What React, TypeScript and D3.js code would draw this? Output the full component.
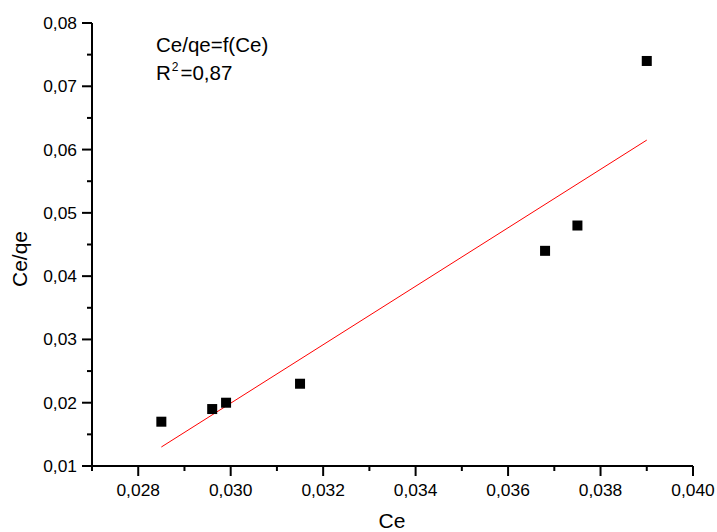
import React from "react";
import * as d3 from "d3";

const ceValues = [0.0285, 0.0296, 0.0299, 0.0315, 0.0368, 0.0375, 0.039];
const ceQeValues = [0.017, 0.019, 0.02, 0.023, 0.044, 0.048, 0.074];
const fitX = [0.0285, 0.039];
const fitY = [0.013, 0.0615];
const xTicks = [0.028, 0.03, 0.032, 0.034, 0.036, 0.038, 0.04];
const yTicks = [0.01, 0.02, 0.03, 0.04, 0.05, 0.06, 0.07, 0.08];

const W = 717;
const H = 532;
const FONT = "Arial, 'Liberation Sans', Helvetica, sans-serif";

export default function App() {
  const x = d3.scaleLinear().domain([0.027, 0.04]).range([92, 693]);
  const y = d3.scaleLinear().domain([0.01, 0.08]).range([466, 23]);
  const xMinor = d3.range(0.027, 0.0405, 0.001).filter(
    (v) => !xTicks.some((t) => Math.abs(t - v) < 1e-7)
  );
  const yMinor = d3.range(0.015, 0.08, 0.01);
  const fmtX = (v: number) => d3.format(".3f")(v).replace(".", ",");
  const fmtY = (v: number) => d3.format(".2f")(v).replace(".", ",");
  const line = d3
    .line<number>()
    .x((_, i) => x(fitX[i]))
    .y((d) => y(d));
  const ms = 10;
  return (
    <svg
      width={W}
      height={H}
      style={{ position: "absolute", left: 0, top: 0, background: "#fff" }}
      fontFamily={FONT}
    >
      <rect width={W} height={H} fill="#fff" />
      {/* axes */}
      <line x1={x(0.027)} x2={x(0.04)} y1={466} y2={466} stroke="#000" strokeWidth={2} />
      <line x1={92} x2={92} y1={y(0.08)} y2={466} stroke="#000" strokeWidth={2} />
      {xTicks.map((t) => (
        <g key={"xt" + t}>
          <line x1={x(t)} x2={x(t)} y1={466} y2={476} stroke="#000" strokeWidth={2} />
          <text x={x(t)} y={496} textAnchor="middle" fontSize={17.4} fill="#000">
            {fmtX(t)}
          </text>
        </g>
      ))}
      {xMinor.map((t) => (
        <line key={"xm" + t} x1={x(t)} x2={x(t)} y1={466} y2={471} stroke="#000" strokeWidth={2} />
      ))}
      {yTicks.map((t) => (
        <g key={"yt" + t}>
          <line x1={82} x2={92} y1={y(t)} y2={y(t)} stroke="#000" strokeWidth={2} />
          <text x={77} y={y(t) + 6} textAnchor="end" fontSize={17.4} fill="#000">
            {fmtY(t)}
          </text>
        </g>
      ))}
      {yMinor.map((t) => (
        <line key={"ym" + t} x1={87} x2={92} y1={y(t)} y2={y(t)} stroke="#000" strokeWidth={2} />
      ))}
      {/* axis titles */}
      <text x={392} y={528} textAnchor="middle" fontSize={21} fill="#000">
        Ce
      </text>
      <text
        transform={`translate(27,259) rotate(-90)`}
        textAnchor="middle"
        fontSize={21}
        fill="#000"
      >
        Ce/qe
      </text>
      {/* annotation */}
      <text x={156} y={52} fontSize={20.5} fill="#000">
        Ce/qe=f(Ce)
      </text>
      <text x={156} y={80} fontSize={20.5} fill="#000">
        R<tspan dy={-9} dx={1} fontSize={12}>2</tspan>
        <tspan dy={9} dx={2}>=0,87</tspan>
      </text>
      {/* fit line */}
      <path d={line(fitY) || ""} fill="none" stroke="#ff0000" strokeWidth={1} />
      {/* points */}
      {ceValues.map((v, i) => (
        <rect
          key={"p" + i}
          x={x(v) - ms / 2}
          y={y(ceQeValues[i]) - ms / 2}
          width={ms}
          height={ms}
          fill="#000"
        />
      ))}
    </svg>
  );
}
